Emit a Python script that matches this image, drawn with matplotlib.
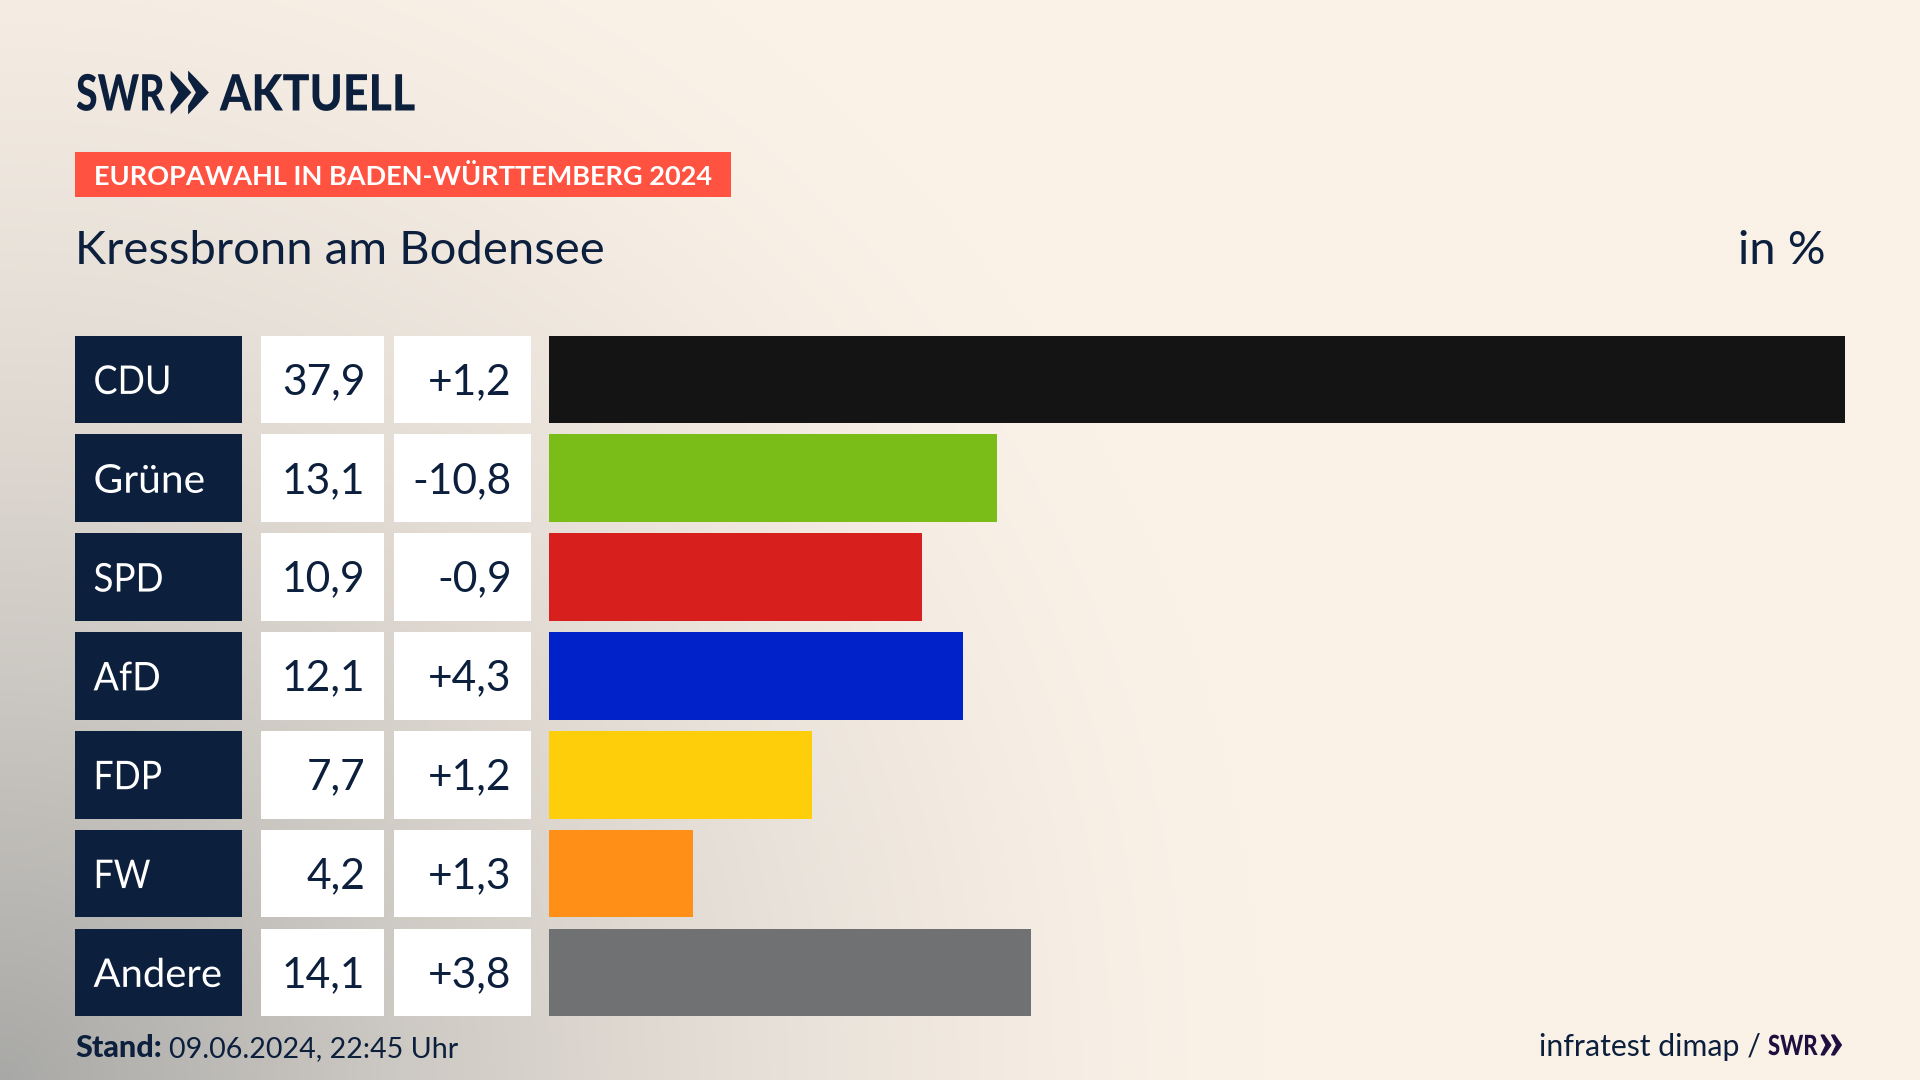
import numpy as np
import matplotlib
matplotlib.use("Agg")
import matplotlib.pyplot as plt
from matplotlib.patches import Rectangle, Polygon
from matplotlib.patheffects import AbstractPathEffect
from matplotlib.transforms import Affine2D

parties = ["CDU", "Grüne", "SPD", "AfD", "FDP", "FW", "Andere"]
shares = [37.9, 13.1, 10.9, 12.1, 7.7, 4.2, 14.1]
share_labels = ["37,9", "13,1", "10,9", "12,1", "7,7", "4,2", "14,1"]
change_labels = ["+1,2", "-10,8", "-0,9", "+4,3", "+1,2", "+1,3", "+3,8"]
bar_colors = ["#141414", "#7ABD19", "#D7201E", "#0022C8", "#FFCE0A", "#FF8F17", "#707173"]
label_squeeze = [0.91, 1.03, 0.93, 0.95, 0.90, 0.90, 1.01]

NAVY = "#0C1F3D"
FONT = "Lato"
W, H = 1920, 1080
fig = plt.figure(figsize=(W / 100, H / 100), dpi=100)


class Squeeze(AbstractPathEffect):
    """Narrow the glyphs of a text horizontally around a pixel position."""
    def __init__(self, sx, x0):
        super().__init__()
        self.sx, self.x0 = sx, x0

    def draw_path(self, renderer, gc, tpath, affine, rgbFace=None):
        t = affine + Affine2D().translate(-self.x0, 0).scale(self.sx, 1).translate(self.x0, 0)
        renderer.draw_path(gc, tpath, t, rgbFace)


bg = fig.add_axes([0, 0, 1, 1])
yy, xx = np.mgrid[0:H:4, 0:W:4]
d = np.sqrt((xx / 1260) ** 2 + ((H - yy) / 1300) ** 2)
t = np.clip(1 - d, 0, 1) ** 1.55
base = np.array([250, 241, 231]) / 255
dark = np.array([168, 168, 166]) / 255
img = base[None, None, :] * (1 - t[..., None]) + dark[None, None, :] * t[..., None]
bg.imshow(img, extent=(0, W, H, 0), aspect="auto", interpolation="bilinear", zorder=0)
bg.set_xlim(0, W); bg.set_ylim(H, 0); bg.axis("off")

# rows
c0, pitch, row_h = 379.4, 98.83, 87.6
for i, p in enumerate(parties):
    yc = c0 + i * pitch
    y0 = yc - row_h / 2
    bg.add_patch(Rectangle((75, y0), 167, row_h, fc=NAVY, ec="none", zorder=2))
    bg.add_patch(Rectangle((261, y0), 123, row_h, fc="white", ec="none", zorder=2))
    bg.add_patch(Rectangle((394, y0), 137, row_h, fc="white", ec="none", zorder=2))
    base_y = yc + 14.5
    bg.text(93.5, base_y, p, color="white", fontsize=28.5, family=FONT, ha="left", va="baseline", zorder=3,
            path_effects=[Squeeze(label_squeeze[i], 93.5)])
    bg.text(365.5, base_y, share_labels[i], color=NAVY, fontsize=30.6, family=FONT, ha="right", va="baseline", zorder=3)
    bg.text(511.5, base_y, change_labels[i], color=NAVY, fontsize=30.6, family=FONT, ha="right", va="baseline", zorder=3)

# bars
ax_top = c0 - pitch / 2
ax_h = 7 * pitch
ax = fig.add_axes([549 / W, 1 - (ax_top + ax_h) / H, (1845 - 549) / W, ax_h / H])
ax.patch.set_alpha(0)
ax.barh(range(len(parties)), shares, height=row_h / pitch, color=bar_colors)
ax.set_xlim(0, 37.9)
ax.set_ylim(6.5, -0.5)
ax.axis("off")

# header
bg.text(76, 110.5, "SWR", color=NAVY, fontsize=36, family=FONT, weight="black", va="baseline", zorder=3,
        path_effects=[Squeeze(0.785, 76)])
for x0 in (172, 189.5):
    bg.add_patch(Polygon([(x0, 74), (x0 + 6, 80), (x0 + 17.5, 92.5), (x0 + 6, 105), (x0, 111), (x0, 106), (x0 + 8, 92.5), (x0, 79)],
                         fc=NAVY, ec=NAVY, lw=2, zorder=3))
bg.text(220, 110.5, "AKTUELL", color=NAVY, fontsize=36, family=FONT, weight="black", va="baseline", zorder=3,
        path_effects=[Squeeze(0.895, 220)])

bg.add_patch(Rectangle((75, 152), 656, 45, fc="#FF5240", ec="none", zorder=2))
bg.text(94, 185, "EUROPAWAHL IN BADEN-WÜRTTEMBERG 2024", color="white", fontsize=19.5, family=FONT,
        weight="bold", va="baseline", zorder=3)
bg.text(75, 264, "Kressbronn am Bodensee", color=NAVY, fontsize=33.9, family=FONT, va="baseline", zorder=3)
bg.text(1826, 264, "in %", color=NAVY, fontsize=33.9, family=FONT, ha="right", va="baseline", zorder=3)

# footer
bg.text(75, 1057, "Stand:", color=NAVY, fontsize=22, family=FONT, weight="black", va="baseline", zorder=3)
bg.text(169, 1057, "09.06.2024, 22:45 Uhr", color=NAVY, fontsize=20.6, family=FONT, va="baseline", zorder=3)
bg.text(1761, 1056, "infratest dimap /", color=NAVY, fontsize=21.8, family=FONT, ha="right", va="baseline", zorder=3)
bg.text(1768, 1055, "SWR", color="#1F0F3F", fontsize=20, family=FONT, weight="black", va="baseline", zorder=3,
        path_effects=[Squeeze(0.79, 1768)])
for x0 in (1821, 1831.5):
    bg.add_patch(Polygon([(x0, 1035), (x0 + 3, 1035), (x0 + 10, 1045), (x0 + 3, 1055), (x0, 1055), (x0 + 5, 1045)],
                         fc="#1F0F3F", ec="#1F0F3F", lw=0.8, zorder=3))

fig.savefig("out.png", dpi=100)
